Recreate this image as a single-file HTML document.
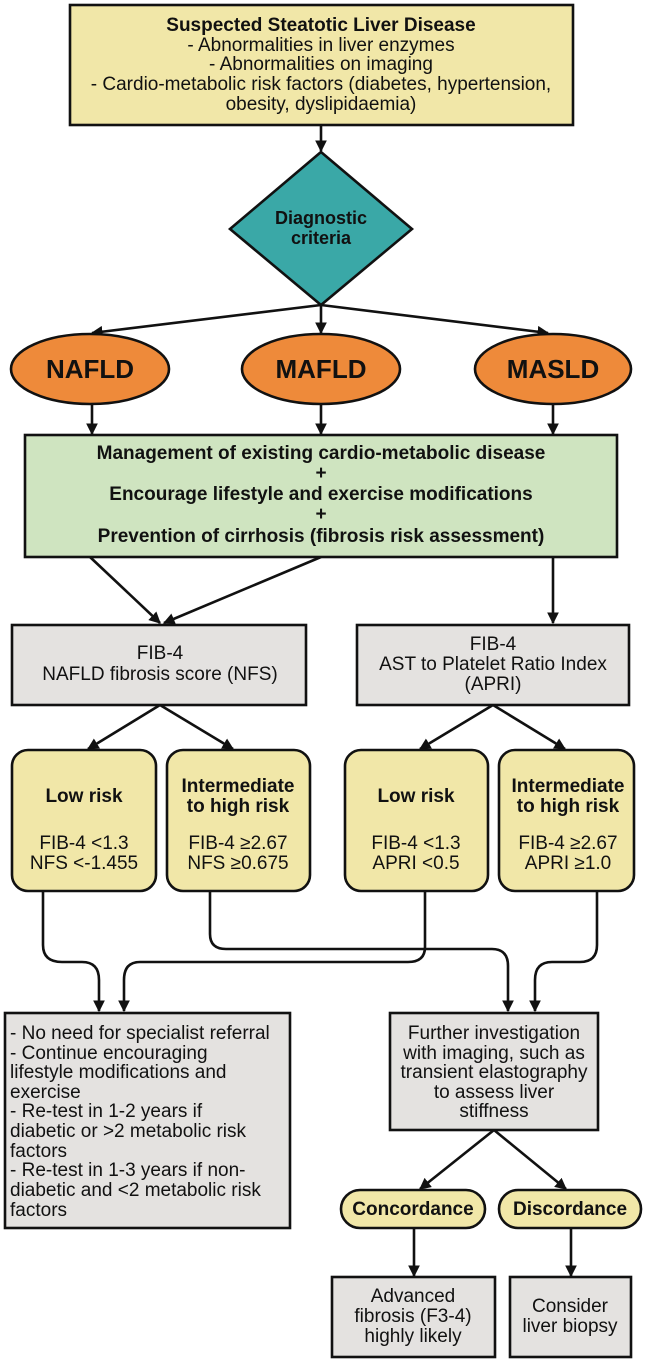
<!DOCTYPE html>
<html><head><meta charset="utf-8"><style>
html,body{margin:0;padding:0;background:#fff;}
svg{display:block;}
text{font-family:"Liberation Sans Narrow","Liberation Sans",sans-serif;fill:#111;}
.b{font-weight:bold;}
</style></head><body>
<svg width="646" height="1359" viewBox="0 0 646 1359" xmlns="http://www.w3.org/2000/svg">
<defs>
<marker id="a" viewBox="0 0 10 10" refX="9" refY="5" markerWidth="4.5" markerHeight="4.5" orient="auto" markerUnits="strokeWidth">
<path d="M0,0 L10,5 L0,10 z" fill="#111"/></marker>
</defs>
<g stroke="#111" stroke-width="2.6" fill="none" marker-end="url(#a)">
<line x1="321" y1="125" x2="321" y2="151"/>
<line x1="321" y1="305" x2="92" y2="333"/>
<line x1="321" y1="305" x2="321" y2="333"/>
<line x1="321" y1="305" x2="548" y2="333"/>
<line x1="92" y1="405" x2="92" y2="434"/>
<line x1="321" y1="405" x2="321" y2="434"/>
<line x1="553" y1="405" x2="553" y2="434"/>
<line x1="90" y1="557" x2="160" y2="623"/>
<line x1="321" y1="557" x2="164" y2="623"/>
<line x1="553" y1="557" x2="553" y2="623"/>
<line x1="160" y1="705" x2="88" y2="749"/>
<line x1="160" y1="705" x2="233" y2="749"/>
<line x1="493" y1="705" x2="420" y2="749"/>
<line x1="493" y1="705" x2="565" y2="749"/>
<path d="M43,892 V945 Q43,962 62,962 H82 Q99,962 99,980 V1011"/>
<path d="M425,892 V947 Q425,962 408,962 H140 Q124,962 124,980 V1011"/>
<path d="M210,892 V934 Q210,949 226,949 H492 Q508,949 508,966 V1011"/>
<path d="M597,892 V945 Q597,962 580,962 H552 Q535,962 535,980 V1011"/>
<line x1="494" y1="1130" x2="420" y2="1189"/>
<line x1="494" y1="1130" x2="566" y2="1189"/>
<line x1="414" y1="1228" x2="414" y2="1276"/>
<line x1="571" y1="1228" x2="571" y2="1276"/>
</g>
<g stroke="#111" stroke-width="2.6">
<rect x="70" y="5" width="503" height="120" fill="#f1e7a8"/>
<polygon points="321,152 412,229 321,305 230,229" fill="#3aa8a7"/>
<ellipse cx="90" cy="369" rx="79" ry="35" fill="#ee8a3a"/>
<ellipse cx="321" cy="369" rx="79" ry="35" fill="#ee8a3a"/>
<ellipse cx="553" cy="369" rx="78" ry="35" fill="#ee8a3a"/>
<rect x="25" y="435" width="592" height="122" fill="#cfe4c0"/>
<rect x="12" y="625" width="294" height="80" fill="#e4e2e0"/>
<rect x="357" y="625" width="272" height="80" fill="#e4e2e0"/>
<rect x="12" y="750" width="144" height="141" rx="16" fill="#f1e7a8"/>
<rect x="167" y="750" width="143" height="141" rx="16" fill="#f1e7a8"/>
<rect x="345" y="750" width="143" height="141" rx="16" fill="#f1e7a8"/>
<rect x="499" y="750" width="135" height="141" rx="16" fill="#f1e7a8"/>
<rect x="5" y="1013" width="285" height="215" fill="#e4e2e0"/>
<rect x="390" y="1013" width="208" height="117" fill="#e4e2e0"/>
<rect x="341" y="1190" width="144" height="38" rx="19" fill="#f1e7a8"/>
<rect x="499" y="1190" width="142" height="38" rx="19" fill="#f1e7a8"/>
<rect x="332" y="1277" width="163" height="80" fill="#e4e2e0"/>
<rect x="510" y="1277" width="121" height="80" fill="#e4e2e0"/>
</g>
<g text-anchor="middle" font-size="19">
<text x="321" y="31" class="b">Suspected Steatotic Liver Disease</text>
<text x="321" y="51">- Abnormalities in liver enzymes</text>
<text x="321" y="70">- Abnormalities on imaging</text>
<text x="321" y="90">- Cardio-metabolic risk factors (diabetes, hypertension,</text>
<text x="321" y="110">obesity, dyslipidaemia)</text>
<text x="321" y="224" class="b" font-size="18">Diagnostic</text>
<text x="321" y="244" class="b" font-size="18">criteria</text>
<text x="90" y="378" class="b" font-size="26">NAFLD</text>
<text x="321" y="378" class="b" font-size="26">MAFLD</text>
<text x="553" y="378" class="b" font-size="26">MASLD</text>
<text x="321" y="459" class="b">Management of existing cardio-metabolic disease</text>
<text x="321" y="479" class="b">+</text>
<text x="321" y="500" class="b">Encourage lifestyle and exercise modifications</text>
<text x="321" y="520" class="b">+</text>
<text x="321" y="542" class="b">Prevention of cirrhosis (fibrosis risk assessment)</text>
<text x="160" y="659">FIB-4</text>
<text x="160" y="680">NAFLD fibrosis score (NFS)</text>
<text x="493" y="650">FIB-4</text>
<text x="493" y="670">AST to Platelet Ratio Index</text>
<text x="493" y="690">(APRI)</text>
<text x="84" y="802" class="b">Low risk</text>
<text x="84" y="849">FIB-4 &lt;1.3</text>
<text x="84" y="869">NFS &lt;-1.455</text>
<text x="238" y="792" class="b">Intermediate</text>
<text x="238" y="812" class="b">to high risk</text>
<text x="238" y="849">FIB-4 ≥2.67</text>
<text x="238" y="869">NFS ≥0.675</text>
<text x="416" y="802" class="b">Low risk</text>
<text x="416" y="849">FIB-4 &lt;1.3</text>
<text x="416" y="869">APRI &lt;0.5</text>
<text x="568" y="792" class="b">Intermediate</text>
<text x="568" y="812" class="b">to high risk</text>
<text x="568" y="849">FIB-4 ≥2.67</text>
<text x="568" y="869">APRI ≥1.0</text>
<text x="494" y="1039">Further investigation</text>
<text x="494" y="1059">with imaging, such as</text>
<text x="494" y="1078">transient elastography</text>
<text x="494" y="1098">to assess liver</text>
<text x="494" y="1117">stiffness</text>
<text x="413" y="1215" class="b">Concordance</text>
<text x="570" y="1215" class="b">Discordance</text>
<text x="413" y="1302">Advanced</text>
<text x="413" y="1322">fibrosis (F3-4)</text>
<text x="413" y="1342">highly likely</text>
<text x="570" y="1312">Consider</text>
<text x="570" y="1332">liver biopsy</text>
</g>
<g font-size="19">
<text x="10" y="1039">- No need for specialist referral</text>
<text x="10" y="1059">- Continue encouraging</text>
<text x="10" y="1078">lifestyle modifications and</text>
<text x="10" y="1098">exercise</text>
<text x="10" y="1117">- Re-test in 1-2 years if</text>
<text x="10" y="1137">diabetic or &gt;2 metabolic risk</text>
<text x="10" y="1157">factors</text>
<text x="10" y="1176">- Re-test in 1-3 years if non-</text>
<text x="10" y="1196">diabetic and &lt;2 metabolic risk</text>
<text x="10" y="1216">factors</text>
</g>
</svg>
</body></html>
